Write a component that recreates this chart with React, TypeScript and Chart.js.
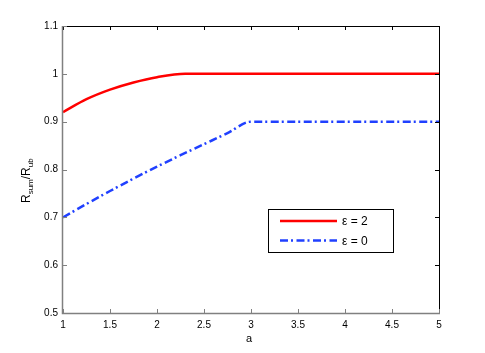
import React, { useEffect, useRef } from "react";
import { Chart, registerables } from "chart.js";

Chart.register(...registerables);

// Data
const redA = [1, 1.25, 1.5, 1.75, 2, 2.3, 5];
const redR = [0.92, 0.947, 0.967, 0.982, 0.993, 1.0, 1.0];
const blueA = [1, 1.25, 1.5, 1.75, 2, 2.25, 2.5, 2.75, 3, 5];
const blueR = [0.7, 0.728, 0.755, 0.781, 0.806, 0.83, 0.853, 0.876, 0.9, 0.9];
const seriesLabels = ["ε = 2", "ε = 0"];
const xTicks = [1, 1.5, 2, 2.5, 3, 3.5, 4, 4.5, 5];
const yTicks = [0.5, 0.6, 0.7, 0.8, 0.9, 1.0, 1.1];

const FONT = "'Liberation Sans', Arial, sans-serif";

const framePlugin = {
  id: "frame",
  afterDraw(chart: any) {
    const { ctx, chartArea } = chart;
    const { left, right, top, bottom } = chartArea;
    const xs = chart.scales.x;
    const ys = chart.scales.y;
    ctx.save();
    // top & right black
    ctx.strokeStyle = "#000";
    ctx.lineWidth = 1;
    ctx.beginPath();
    ctx.moveTo(left, top + 0.5);
    ctx.lineTo(right + 0.5, top + 0.5);
    ctx.lineTo(right + 0.5, bottom);
    ctx.stroke();
    // ticks top/right
    ctx.beginPath();
    xTicks.forEach((t) => {
      const px = Math.round(xs.getPixelForValue(t)) + 0.5;
      ctx.moveTo(px, top);
      ctx.lineTo(px, top + 4);
    });
    yTicks.forEach((t) => {
      const py = Math.round(ys.getPixelForValue(t)) + 0.5;
      ctx.moveTo(right, py);
      ctx.lineTo(right - 4, py);
    });
    ctx.stroke();
    // left & bottom gray
    ctx.strokeStyle = "#808080";
    ctx.lineWidth = 1.5;
    ctx.beginPath();
    ctx.moveTo(left - 0.5, top);
    ctx.lineTo(left - 0.5, bottom + 0.5);
    ctx.lineTo(right + 1, bottom + 0.5);
    ctx.stroke();
    ctx.lineWidth = 1;
    ctx.beginPath();
    xTicks.forEach((t) => {
      const px = Math.round(xs.getPixelForValue(t)) + 0.5;
      ctx.moveTo(px, bottom);
      ctx.lineTo(px, bottom - 4);
    });
    yTicks.forEach((t) => {
      const py = Math.round(ys.getPixelForValue(t)) + 0.5;
      ctx.moveTo(left, py);
      ctx.lineTo(left + 4, py);
    });
    ctx.stroke();

    // x axis title
    ctx.fillStyle = "#000";
    ctx.font = `11px ${FONT}`;
    ctx.textAlign = "center";
    ctx.textBaseline = "alphabetic";
    ctx.fillText("a", 249, 342);

    // y axis title R_sum/R_ub rotated
    ctx.translate(30, 203);
    ctx.rotate(-Math.PI / 2);
    ctx.textAlign = "left";
    let x = 0;
    const parts: [string, boolean][] = [
      ["R", false],
      ["sum", true],
      ["/R", false],
      ["ub", true],
    ];
    parts.forEach(([s, sub]) => {
      ctx.font = sub ? `8px ${FONT}` : `12px ${FONT}`;
      ctx.fillText(s, x, sub ? 3 : 0);
      x += ctx.measureText(s).width;
    });
    ctx.restore();

    // legend
    ctx.save();
    const lx = 268.5, ly = 209.5, lw = 125, lh = 43;
    ctx.fillStyle = "#fff";
    ctx.fillRect(lx, ly, lw, lh);
    ctx.strokeStyle = "#000";
    ctx.lineWidth = 1;
    ctx.strokeRect(lx, ly, lw, lh);
    const rows = [221, 240.5];
    chart.data.datasets.forEach((ds: any, i: number) => {
      ctx.strokeStyle = ds.borderColor;
      ctx.lineWidth = ds.borderWidth;
      ctx.setLineDash(ds.borderDash || []);
      ctx.beginPath();
      ctx.moveTo(280, rows[i]);
      ctx.lineTo(337, rows[i]);
      ctx.stroke();
      ctx.setLineDash([]);
      ctx.fillStyle = "#000";
      ctx.font = `12px ${FONT}`;
      ctx.textAlign = "left";
      ctx.textBaseline = "middle";
      ctx.fillText(ds.label, 342, rows[i] + 1);
    });
    ctx.restore();
  },
};

export default function App() {
  const ref = useRef<HTMLCanvasElement | null>(null);
  useEffect(() => {
    if (!ref.current) return;
    const chart = new Chart(ref.current, {
      type: "line",
      data: {
        datasets: [
          {
            label: seriesLabels[0],
            data: redA.map((a, i) => ({ x: a, y: redR[i] })),
            borderColor: "#ff0000",
            borderWidth: 2.5,
            pointRadius: 0,
            cubicInterpolationMode: "monotone",
            fill: false,
          },
          {
            label: seriesLabels[1],
            data: blueA.map((a, i) => ({ x: a, y: blueR[i] })),
            borderColor: "#2040ff",
            borderWidth: 2.5,
            borderDash: [8, 3, 2, 3.5],
            pointRadius: 0,
            cubicInterpolationMode: "monotone",
            fill: false,
          },
        ],
      },
      options: {
        animation: false,
        responsive: true,
        maintainAspectRatio: false,
        layout: { padding: { left: 0, right: 46, top: 26, bottom: 0 } },
        plugins: { legend: { display: false }, tooltip: { enabled: false } },
        scales: {
          x: {
            type: "linear",
            min: 1,
            max: 5,
            grid: { display: false, drawTicks: false },
            border: { display: false },
            afterFit: (s: any) => {
              s.height = 40;
            },
            afterBuildTicks: (s: any) => {
              s.ticks = xTicks.map((v) => ({ value: v }));
            },
            ticks: {
              padding: 6,
              color: "#000",
              font: { family: FONT, size: 10 },
              maxRotation: 0,
              callback: (v: any) => String(Number(Number(v).toFixed(2))),
            },
          },
          y: {
            min: 0.5,
            max: 1.1,
            grid: { display: false, drawTicks: false },
            border: { display: false },
            afterFit: (s: any) => {
              s.width = 63;
            },
            afterBuildTicks: (s: any) => {
              s.ticks = yTicks.map((v) => ({ value: v }));
            },
            ticks: {
              padding: 5,
              color: "#000",
              font: { family: FONT, size: 10 },
              callback: (v: any) => String(Number(Number(v).toFixed(1))),
            },
          },
        },
      },
      plugins: [framePlugin],
    });
    return () => chart.destroy();
  }, []);
  return (
    <div style={{ position: "absolute", left: 0, top: 0, width: 485, height: 353, background: "#fff" }}>
      <canvas ref={ref} />
    </div>
  );
}
